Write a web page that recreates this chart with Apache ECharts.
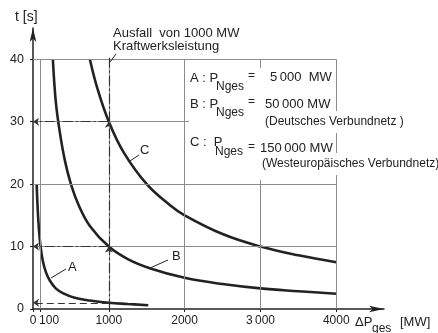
<!DOCTYPE html>
<html>
<head>
<meta charset="utf-8">
<script src="https://cdn.jsdelivr.net/npm/echarts@6/dist/echarts.min.js"></script>
<style>
  html, body { margin: 0; padding: 0; background: #fff; }
  #chart { width: 438px; height: 333px; }
</style>
</head>
<body>
<div id="chart"></div>
<script>
// values: power loss ΔP [MW] and time t [s]
const pA = [48, 60, 75, 100, 130, 170, 220, 300, 400, 550, 750, 1000, 1250, 1520]
const tA = [20, 16.5, 13.3, 10, 7.7, 5.9, 4.6, 3.3, 2.5, 1.8, 1.35, 1.0, 0.8, 0.6]
const pB = [262, 300, 350, 420, 500, 600, 750, 1000, 1250, 1550, 2000, 2500, 3000, 3500, 4000]
const tB = [40, 33.3, 28.6, 23.8, 20, 16.7, 13.3, 10, 8, 6.5, 5, 4, 3.3, 2.85, 2.45]
const pC = [750, 850, 1000, 1200, 1500, 1800, 2000, 2500, 3000, 3500, 4000]
const tC = [40, 35.3, 30, 25, 20, 16.7, 15, 12, 10, 8.6, 7.5]
const xTicks = [0, 100, 1000, 2000, 3000, 4000]
const yTicks = [0, 10, 20, 30, 40]
const xGrid = [100, 1000, 2000, 3000, 4000]
const yGrid = [10, 20, 30, 40]
const xMark = 1000
const yMarks = [1, 10, 30]

const FONT = "'Liberation Sans', Arial, sans-serif"
const INK = '#222'

const zip = (xs, ys) => xs.map((x, i) => [x, ys[i]])

const chart = echarts.init(document.getElementById('chart'))

// grid lines stop at 4000 / 40, so they are drawn as mark lines
const gridLines = []
xGrid.forEach(x => gridLines.push([{ coord: [x, 0] }, { coord: [x, 40] }]))
yGrid.forEach(y => gridLines.push([{ coord: [0, y] }, { coord: [4000, y] }]))

const dashDot = [10, 3, 2, 3]
const guideLines = [
  [{ coord: [xMark, 0] }, { coord: [xMark, yMarks[1]] }],
  [{ coord: [xMark, yMarks[1]] }, { coord: [xMark, yMarks[2]] }],
  [{ coord: [xMark, yMarks[2]], symbol: 'none' }, { coord: [xMark, 40.3], symbol: 'none' }],
  [{ coord: [xMark, yMarks[2]] }, { coord: [0, yMarks[2]] }],
  [{ coord: [xMark, yMarks[1]] }, { coord: [0, yMarks[1]] }],
  [{ coord: [xMark, yMarks[0]], lineStyle: { type: [7, 4] } }, { coord: [0, yMarks[0]] }]
]

function txt (x, y, text, size, extra) {
  return Object.assign({
    type: 'text',
    x: x,
    y: y,
    z: 60,
    style: {
      text: text,
      fill: INK,
      font: size + 'px ' + FONT,
      textVerticalAlign: 'middle'
    }
  }, extra || {})
}
function bgTxt (x, y, text, size) {
  const t = txt(x, y, text, size)
  t.style.backgroundColor = '#fff'
  t.style.padding = [5, 2, 5, 2]
  return t
}
function seg (x1, y1, x2, y2) {
  return { type: 'line', z: 60, shape: { x1, y1, x2, y2 }, style: { stroke: INK, lineWidth: 1 } }
}

const option = {
  animation: false,
  grid: { left: 33, right: 54, top: 28, bottom: 24 },
  xAxis: {
    type: 'value',
    min: 0,
    max: 4630,
    splitLine: { show: false },
    axisLine: {
      symbol: ['none', 'arrow'],
      symbolSize: [5, 15],
      lineStyle: { color: INK, width: 1.5 }
    },
    axisTick: { customValues: xTicks, length: 3, lineStyle: { color: INK } },
    axisLabel: {
      customValues: xTicks,
      margin: 6,
      color: INK,
      fontFamily: FONT,
      fontSize: 12,
      formatter: v => v === 100 ? '{r|100}' : v === 3000 ? '3\u2009000' : String(v),
      rich: { r: { padding: [0, 0, 0, 17], fontFamily: FONT, fontSize: 12, color: INK } }
    }
  },
  yAxis: {
    type: 'value',
    min: 0,
    max: 45,
    splitLine: { show: false },
    axisLine: {
      show: true,
      symbol: ['none', 'arrow'],
      symbolSize: [5, 14],
      lineStyle: { color: INK, width: 1.5 }
    },
    axisTick: { show: true, customValues: yTicks, length: 3, lineStyle: { color: INK } },
    axisLabel: {
      customValues: yTicks,
      margin: 9,
      color: INK,
      fontFamily: FONT,
      fontSize: 12.5
    }
  },
  series: [
    {
      type: 'line',
      data: [],
      z: 1,
      silent: true,
      markLine: {
        silent: true,
        symbol: 'none',
        label: { show: false },
        lineStyle: { color: '#8c8c8c', width: 1, type: 'solid' },
        data: gridLines
      }
    },
    {
      type: 'line',
      data: [],
      z: 2,
      silent: true,
      markLine: {
        silent: true,
        symbol: ['none', 'arrow'],
        symbolSize: 6,
        label: { show: false },
        lineStyle: { color: '#333', width: 1.2, type: dashDot },
        data: guideLines
      }
    },
    { name: 'A', type: 'line', z: 3, data: zip(pA, tA) },
    { name: 'B', type: 'line', z: 3, data: zip(pB, tB) },
    { name: 'C', type: 'line', z: 3, data: zip(pC, tC) }
  ].map(s => s.name ? Object.assign(s, {
    smooth: 0.4,
    showSymbol: false,
    lineStyle: { color: INK, width: 2.6 }
  }) : s),
  graphic: [
    // axis titles
    txt(15, 17, 't [s]', 14),
    txt(355, 322, '\u0394P', 13),
    txt(372, 329, 'ges', 12),
    txt(400, 322, '[MW]', 13),
    // annotation for the 1000 MW outage
    txt(113, 33, 'Ausfall  von 1000 MW', 13),
    txt(113, 46, 'Kraftwerksleistung', 13),
    seg(110, 62, 116, 54),
    // curve labels
    txt(68, 267, 'A', 13),
    seg(51, 278, 66, 269),
    txt(172, 256, 'B', 13),
    seg(150, 268, 168, 260),
    txt(140, 150, 'C', 13),
    seg(130, 161, 139, 155),
    // legend block on white ground
    { type: 'rect', z: 55, shape: { x: 189, y: 68, width: 144, height: 112 }, style: { fill: '#fff' } },
    txt(190, 78, 'A : P', 13),
    txt(216, 87, 'Nges', 12),
    txt(248, 76, '=', 12),
    txt(270, 77, '5\u2009000  MW', 13),
    txt(190, 104, 'B : P', 13),
    txt(216, 113, 'Nges', 12),
    txt(248, 102, '=', 12),
    txt(265, 104, '50\u2009000 MW', 13),
    bgTxt(263, 122, '(Deutsches Verbundnetz )', 12),
    txt(190, 142, 'C :  P', 13),
    txt(215, 152, 'Nges', 12),
    txt(248, 147, '=', 12),
    txt(260, 148, '150\u2009000 MW', 13),
    bgTxt(260, 164, '(Westeurop\u00e4isches Verbundnetz)', 12)
  ]
}
chart.setOption(option)
</script>
</body>
</html>
